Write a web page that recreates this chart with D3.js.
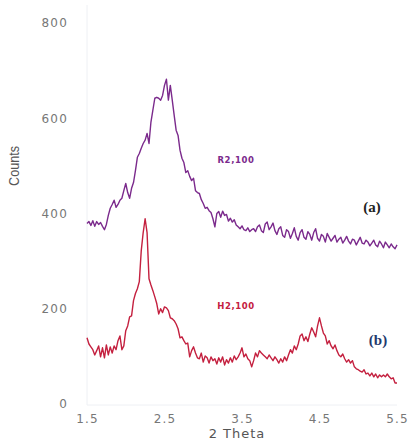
<!DOCTYPE html>
<html>
<head>
<meta charset="utf-8">
<script src="https://cdn.jsdelivr.net/npm/d3@7"></script>
<style>
  body { margin: 0; background: #fff; }
  .tick-label { font-family: "DejaVu Sans", sans-serif; font-size: 12px; fill: #777; letter-spacing: 1.2px; }
</style>
</head>
<body>
<svg width="409" height="441"></svg>
<script>
// x grid: 2 Theta from 1.5 to 5.5 in steps of 0.025
const thetaStart = 1.5, thetaStep = 0.025;

// R2,100 (purple, trace a)
const countsR = [
  379, 383, 375, 385, 373, 383, 377, 381, 373, 366,
  377, 396, 411, 419, 428, 413, 419, 428, 432, 448,
  463, 444, 432, 453, 465, 490, 518, 526, 537, 547,
  554, 568, 547, 592, 617, 642, 644, 642, 638, 648,
  669, 682, 638, 669, 638, 606, 575, 564, 533, 516,
  507, 486, 490, 478, 469, 474, 448, 444, 442, 429,
  421, 411, 413, 406, 402, 389,
  372, 400, 404, 392, 405, 396, 398, 384, 390, 382, 387,
  376, 372, 368, 374, 366, 364, 370, 362, 366, 368,
  362, 372, 376, 364, 360, 378, 382, 366, 372, 380,
  364, 356, 368, 372, 354, 350, 366, 362, 348, 358,
  370, 352, 344, 360, 366, 350, 346, 362, 356, 344,
  360, 368, 348, 342, 356, 352, 340, 358, 350, 342,
  348, 354, 340, 346, 350, 338, 344, 352, 342, 336,
  346, 344, 334, 342, 350, 338, 336, 344, 340, 332,
  338, 344, 334, 330, 342, 336, 328, 340, 334, 328,
  336, 330, 326, 334
];

// H2,100 (crimson, trace b)
const countsH = [
  139, 126, 120, 114, 103, 112, 122, 99, 118, 97,
  124, 103, 120, 107, 122, 114, 133, 143, 114, 122,
  154, 164, 183, 185, 217, 232, 242, 257, 322, 360,
  389, 360, 263, 250, 238, 225, 211, 189, 200, 192,
  204, 202, 196, 181, 179, 175, 168, 158, 139, 141,
  133, 126, 128, 99, 112, 120, 107, 97, 95, 107,
  88, 101, 97, 86, 99, 91, 95, 84, 97, 88,
  99, 82, 93, 86, 97, 88, 101, 93, 99, 107,
  118, 99, 105, 95, 91, 78, 91, 107, 99, 112,
  107, 103, 99, 95, 103, 97, 91, 99, 93, 86,
  95, 88, 99, 91, 103, 114, 107, 122, 114, 126,
  143, 147, 133, 141, 131, 147, 160, 151, 141, 164,
  181, 164, 149, 143, 126, 133, 122, 116, 124, 112,
  103, 99, 105, 95, 88, 93, 86, 91, 78, 74,
  72, 69, 67, 72, 63, 65, 59, 65, 57, 63,
  55, 61, 57, 61, 57, 63, 57, 53, 55, 44,
  44
];

const xTicks = [1.5, 2.5, 3.5, 4.5, 5.5];
const yTicks = [0, 200, 400, 600, 800];

const seriesNames = ["R2,100", "H2,100"];
const seriesTags = ["(a)", "(b)"];

const svg = d3.select("svg");

const x = d3.scaleLinear().domain([1.5, 5.5]).range([87, 397]);
const y = d3.scaleLinear().domain([0, 800]).range([404, 23]);

// frame lines
svg.append("line")
  .attr("x1", 87).attr("x2", 87).attr("y1", 5).attr("y2", 405)
  .attr("stroke", "#eef0f4").attr("stroke-width", 1);
svg.append("line")
  .attr("x1", 87).attr("x2", 397).attr("y1", 405).attr("y2", 405)
  .attr("stroke", "#eef0f4").attr("stroke-width", 1);

// axes via d3 then strip domain/ticks, keep labels
const yAxis = svg.append("g")
  .attr("transform", "translate(68,0)")
  .call(d3.axisLeft(y).tickValues(yTicks).tickSize(0).tickPadding(0));
yAxis.select(".domain").remove();
yAxis.selectAll("text").attr("class", "tick-label").attr("font-family", null).attr("font-size", null);

const xAxis = svg.append("g")
  .attr("transform", "translate(0,414)")
  .call(d3.axisBottom(x).tickValues(xTicks).tickFormat(d3.format(".1f")).tickSize(0).tickPadding(0));
xAxis.select(".domain").remove();
xAxis.selectAll("text").attr("class", "tick-label").attr("font-family", null).attr("font-size", null);

// axis titles
svg.append("text")
  .attr("transform", "translate(19,166) rotate(-90) scale(0.9,1)")
  .attr("text-anchor", "middle")
  .attr("font-family", "Liberation Sans, Arial, sans-serif")
  .attr("font-size", 14)
  .attr("fill", "#555")
  .text("Counts");

svg.append("text")
  .attr("x", 237).attr("y", 438)
  .attr("text-anchor", "middle")
  .attr("font-family", "DejaVu Sans, sans-serif")
  .attr("font-size", 13)
  .attr("letter-spacing", 1)
  .attr("fill", "#555")
  .text("2 Theta");

const line = d3.line()
  .x((d, i) => x(thetaStart + i * thetaStep))
  .y(d => y(d))
  .curve(d3.curveLinear);

const colors = ["#7b2a8c", "#c4203f"];
[countsR, countsH].forEach((vals, k) => {
  svg.append("path")
    .datum(vals)
    .attr("fill", "none")
    .attr("stroke", colors[k])
    .attr("stroke-width", 1.4)
    .attr("stroke-linejoin", "round")
    .attr("d", line);
});

// series labels
const nameY = [160, 306];
seriesNames.forEach((n, k) => {
  svg.append("text")
    .attr("x", 236).attr("y", nameY[k])
    .attr("text-anchor", "middle")
    .attr("dominant-baseline", "middle")
    .attr("font-family", "DejaVu Sans, sans-serif")
    .attr("font-weight", "bold")
    .attr("font-size", 8.5)
    .attr("letter-spacing", 0.6)
    .attr("fill", colors[k])
    .text(n);
});

const tagX = [372, 378], tagY = [209, 342];
const tagColors = ["#222", "#1f3a6e"];
seriesTags.forEach((t, k) => {
  svg.append("text")
    .attr("x", tagX[k]).attr("y", tagY[k])
    .attr("text-anchor", "middle")
    .attr("dominant-baseline", "middle")
    .attr("font-family", "Liberation Serif, serif")
    .attr("font-weight", "bold")
    .attr("font-size", 15)
    .attr("fill", tagColors[k])
    .text(t);
});
</script>
</body>
</html>
